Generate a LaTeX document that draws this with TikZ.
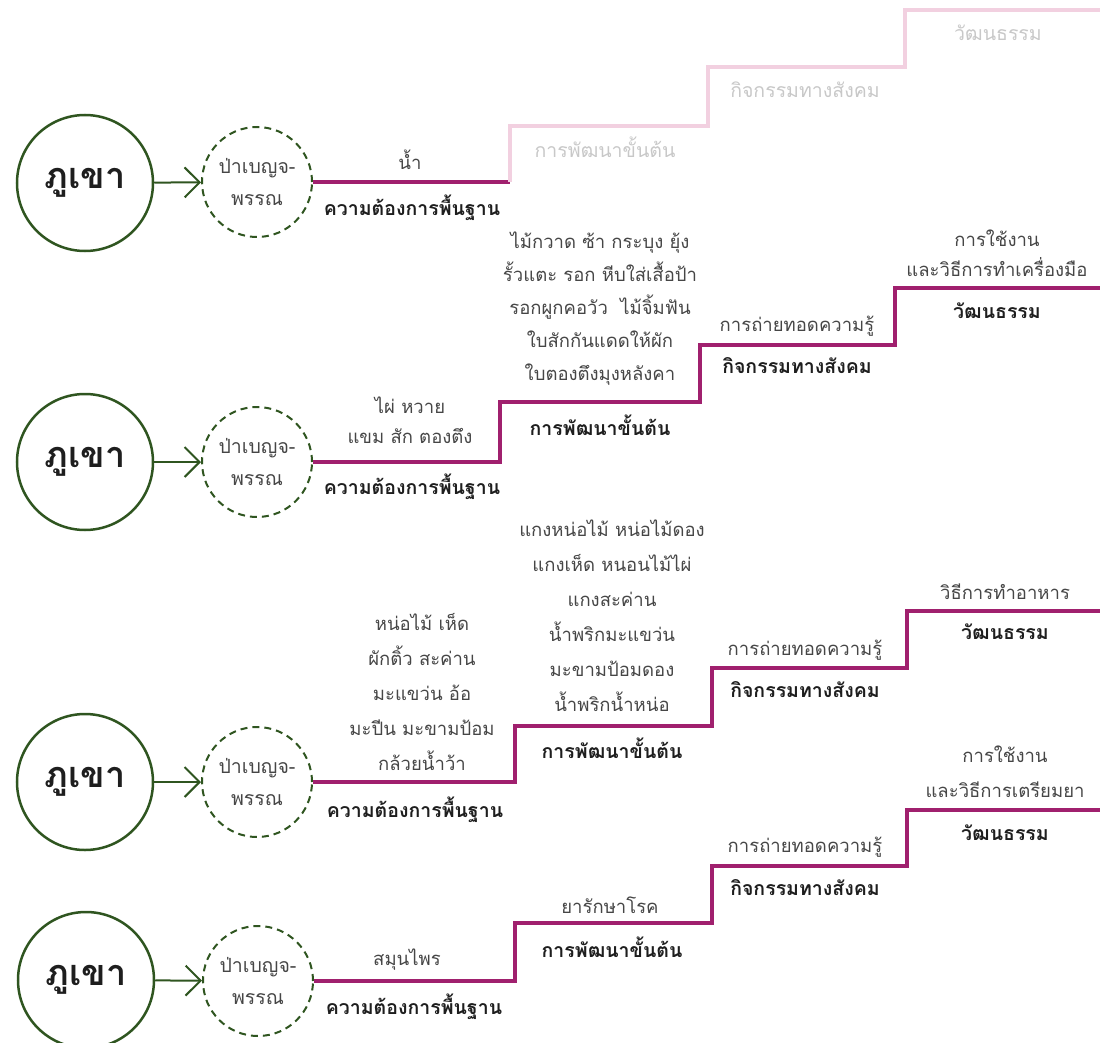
\documentclass[tikz,border=0pt]{standalone}
\usepackage{fontspec}
\setmainfont[Script=Thai]{Loma}
\usetikzlibrary{arrows.meta}
\definecolor{forestgreen}{RGB}{47,85,32}
\definecolor{mag}{RGB}{160,32,110}
\definecolor{pinkfade}{RGB}{242,208,224}
\definecolor{greyfade}{RGB}{200,200,200}
\definecolor{txtgrey}{RGB}{70,70,70}
\definecolor{txtdark}{RGB}{30,30,30}
\begin{document}
\begin{tikzpicture}[x=1pt,y=-1pt,
  mount/.style={circle, draw=forestgreen, line width=2.5pt, minimum size=136pt, inner sep=0pt,
    font=\fontsize{36}{38}\selectfont\bfseries, text=txtdark},
  wood/.style={circle, draw=forestgreen, dash pattern=on 7pt off 5pt, line width=2pt,
    minimum size=110pt, inner sep=0pt, align=center, font=\fontsize{19.5}{32}\selectfont, text=txtgrey},
  feed/.style={draw=forestgreen, line width=2pt, -{Straight Barb[length=15pt,width=30pt,line width=2pt]}},
  stair/.style={draw=mag, line width=3.5pt},
  fadestair/.style={draw=pinkfade, line width=3.5pt},
  lbl/.style={font=\fontsize{18.5}{33}\selectfont, text=txtgrey, align=center, inner sep=0pt},
  lbll/.style={font=\fontsize{18.5}{35}\selectfont, text=txtgrey, align=center, inner sep=0pt},
  lbls/.style={font=\fontsize{18.5}{30}\selectfont, text=txtgrey, align=center, inner sep=0pt},
  head/.style={font=\fontsize{19.5}{33}\selectfont\bfseries, text=txtdark, inner sep=0pt},
  ghost/.style={font=\fontsize{19.5}{33}\selectfont, text=greyfade, inner sep=0pt}]
\useasboundingbox (0,0) rectangle (1100,1043);

% ---------- Row 1 ----------
\node[mount] (m1) at (85,183) {ภูเขา};
\node[wood] (f1) at (257,182) {ป่าเบญจ-\\พรรณ};
\draw[feed] (m1) -- (f1);
\coordinate (j1) at (510,182);
\coordinate (e1) at (1100,10);
\draw[stair] (f1.east) -- (j1);
\draw[fadestair] (j1) |- (708,126) |- (905,67) |- (e1);
\node[lbl] (r1a) at (410,160) {น้ำ};
\node[head] (r1b) at (412,208) {ความต้องการพื้นฐาน};
\node[ghost] (r1c) at (605,147) {การพัฒนาขั้นต้น};
\node[ghost] (r1d) at (805,90) {กิจกรรมทางสังคม};
\node[ghost] (r1e) at (998,33) {วัฒนธรรม};

% ---------- Row 2 ----------
\node[mount] (m2) at (85,462) {ภูเขา};
\node[wood] (f2) at (257,462) {ป่าเบญจ-\\พรรณ};
\draw[feed] (m2) -- (f2);
\coordinate (e2) at (1100,288);
\draw[stair] (f2.east) -- (500,462) |- (700,402) |- (895,345) |- (e2);
\node[lbls] (r2a) at (410,420) {ไผ่ หวาย\\แขม สัก ตองตึง};
\node[head] (r2b) at (412,487) {ความต้องการพื้นฐาน};
\node[lbl] (r2c) at (600,309) {ไม้กวาด ซ้า กระบุง ยุ้ง\\รั้วแตะ รอก หีบใส่เสื้อป้า\\รอกผูกคอวัว\ \ ไม้จิ้มฟัน\\ใบสักกันแดดให้ผัก\\ใบตองตึงมุงหลังคา};
\node[head] (r2d) at (600,425) {การพัฒนาขั้นต้น};
\node[lbl] (r2e) at (797,326) {การถ่ายทอดความรู้};
\node[head] (r2f) at (797,366) {กิจกรรมทางสังคม};
\node[lbls] (r2g) at (997,253) {การใช้งาน\\และวิธีการทำเครื่องมือ};
\node[head] (r2h) at (997,311) {วัฒนธรรม};

% ---------- Row 3 ----------
\node[mount] (m3) at (85,782) {ภูเขา};
\node[wood] (f3) at (257,782) {ป่าเบญจ-\\พรรณ};
\draw[feed] (m3) -- (f3);
\coordinate (e3) at (1100,611);
\draw[stair] (f3.east) -- (515,782) |- (712,726) |- (907,668) |- (e3);
\node[lbll] (r3a) at (422,692) {หน่อไม้ เห็ด\\ผักติ้ว สะค่าน\\มะแขว่น อ้อ\\มะปีน มะขามป้อม\\กล้วยน้ำว้า};
\node[head] (r3b) at (415,810) {ความต้องการพื้นฐาน};
\node[lbll] (r3c) at (612,616) {แกงหน่อไม้ หน่อไม้ดอง\\แกงเห็ด หนอนไม้ไผ่\\แกงสะค่าน\\น้ำพริกมะแขว่น\\มะขามป้อมดอง\\น้ำพริกน้ำหน่อ};
\node[head] (r3d) at (612,748) {การพัฒนาขั้นต้น};
\node[lbl] (r3e) at (805,650) {การถ่ายทอดความรู้};
\node[head] (r3f) at (805,690) {กิจกรรมทางสังคม};
\node[lbl] (r3g) at (1005,592) {วิธีการทำอาหาร};
\node[head] (r3h) at (1005,632) {วัฒนธรรม};

% ---------- Row 4 ----------
\node[mount] (m4) at (86,980) {ภูเขา};
\node[wood] (f4) at (258,981) {ป่าเบญจ-\\พรรณ};
\draw[feed] (m4) -- (f4);
\coordinate (e4) at (1100,810);
\draw[stair] (f4.east) -- (515,981) |- (712,923) |- (907,866) |- (e4);
\node[lbl] (r4a) at (407,960) {สมุนไพร};
\node[head] (r4b) at (414,1007) {ความต้องการพื้นฐาน};
\node[lbl] (r4c) at (610,905) {ยารักษาโรค};
\node[head] (r4d) at (612,947) {การพัฒนาขั้นต้น};
\node[lbl] (r4e) at (805,847) {การถ่ายทอดความรู้};
\node[head] (r4f) at (805,888) {กิจกรรมทางสังคม};
\node[lbll] (r4g) at (1005,772) {การใช้งาน\\และวิธีการเตรียมยา};
\node[head] (r4h) at (1005,833) {วัฒนธรรม};
\end{tikzpicture}
\end{document}
